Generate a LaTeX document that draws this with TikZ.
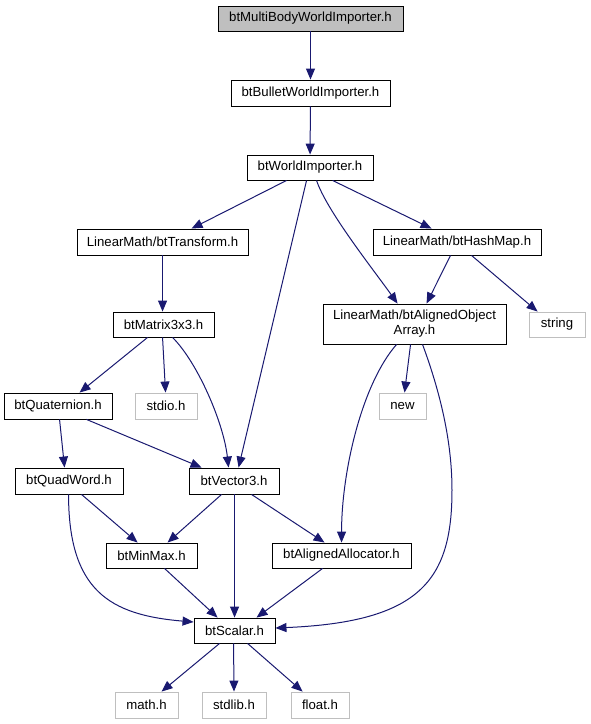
\documentclass[tikz,border=0pt]{standalone}
\usepackage{fontspec}
\setmainfont{Liberation Sans}
\usetikzlibrary{arrows.meta}
\definecolor{edgec}{HTML}{191970}
\definecolor{grayb}{HTML}{BFBFBF}
\begin{document}
\begin{tikzpicture}[x=1pt,y=-1pt,
  box/.style={draw=black, line width=0.9pt, inner sep=0pt, font=\fontsize{13.2}{15}\selectfont, text=black, fill=white, align=center},
  ext/.style={box, draw=grayb},
  edge/.style={draw=edgec, line width=1pt, -{Triangle[length=11pt,width=9pt]}}]
\useasboundingbox (0,0) rectangle (590,724);
\node[box, fill=grayb, minimum width=185pt, minimum height=25pt] (mb) at (310.5,18.5) {btMultiBodyWorldImporter.h};
\node[box, minimum width=159pt, minimum height=26pt] (bu) at (310.5,93) {btBulletWorldImporter.h};
\node[box, minimum width=126pt, minimum height=25pt] (wi) at (310,167.5) {btWorldImporter.h};
\node[box, minimum width=171pt, minimum height=26pt] (tr) at (162.5,242) {LinearMath/btTransform.h};
\node[box, minimum width=168pt, minimum height=26pt] (hm) at (457,242) {LinearMath/btHashMap.h};
\node[box, minimum width=101pt, minimum height=25pt] (m3) at (163.5,324.5) {btMatrix3x3.h};
\node[box, minimum width=183pt, minimum height=40pt] (ao) at (414.5,324) {LinearMath/btAlignedObject\\Array.h};
\node[ext, minimum width=56pt, minimum height=25pt] (st) at (557,324.5) {string};
\node[box, minimum width=108pt, minimum height=26pt] (qu) at (58,406) {btQuaternion.h};
\node[ext, minimum width=62pt, minimum height=26pt] (sd) at (166,406) {stdio.h};
\node[ext, minimum width=47pt, minimum height=26pt] (nw) at (402.5,406) {new};
\node[box, minimum width=108pt, minimum height=26pt] (qw) at (69,481) {btQuadWord.h};
\node[box, minimum width=90pt, minimum height=26pt] (v3) at (234,481) {btVector3.h};
\node[box, minimum width=91pt, minimum height=25pt] (mm) at (151.5,555.5) {btMinMax.h};
\node[box, minimum width=139pt, minimum height=25pt] (aa) at (341.5,555.5) {btAlignedAllocator.h};
\node[box, minimum width=81pt, minimum height=25pt] (sc) at (234.5,630.5) {btScalar.h};
\node[ext, minimum width=63pt, minimum height=26pt] (ma) at (146.5,705) {math.h};
\node[ext, minimum width=64pt, minimum height=26pt] (sl) at (234,705) {stdlib.h};
\node[ext, minimum width=58pt, minimum height=26pt] (fl) at (320,705) {float.h};

\draw[edge] (mb) -- (bu);
\draw[edge] (bu) -- (wi);
\draw[edge] ([xshift=40pt]wi.south west) -- ([xshift=115pt]tr.north west);
\draw[edge] ([xshift=60pt]wi.south west) -- ([xshift=50pt]v3.north west);
\draw[edge] ([xshift=70pt]wi.south west) .. controls +(10,30) and +(-25,-35) .. ([xshift=75pt]ao.north west);
\draw[edge] ([xshift=86pt]wi.south west) -- ([xshift=59pt]hm.north west);
\draw[edge] ([xshift=86pt]tr.south west) -- ([xshift=50pt]m3.north west);
\draw[edge] ([xshift=78pt]hm.south west) -- ([xshift=104pt]ao.north west);
\draw[edge] ([xshift=99pt]hm.south west) -- ([xshift=9pt]st.north west);
\draw[edge] ([xshift=88pt]ao.south west) -- ([xshift=26pt]nw.north west);
\draw[edge] ([xshift=74pt]ao.south west) .. controls +(-35,40) and +(0,-70) .. ([xshift=70pt]aa.north west);
\draw[edge] ([xshift=100pt]ao.south west) .. controls +(17,46) and +(0,-50) .. (452,490) .. controls +(0,90) and +(145,-6) .. ([yshift=2.5pt]sc.east);
\draw[edge] ([xshift=35pt]m3.south west) -- ([xshift=76pt]qu.north west);
\draw[edge] ([xshift=50pt]m3.south west) -- ([xshift=31pt]sd.north west);
\draw[edge] ([xshift=60pt]m3.south west) .. controls +(25,25) and +(-5,-45) .. ([xshift=40pt]v3.north west);
\draw[edge] ([xshift=56pt]qu.south west) -- ([xshift=50pt]qw.north west);
\draw[edge] ([xshift=83pt]qu.south west) -- ([xshift=13pt]v3.north west);
\draw[edge] ([xshift=67pt]qw.south west) -- ([xshift=32pt]mm.north west);
\draw[edge] ([xshift=54pt]qw.south west) .. controls +(0,96) and +(-84,-7) .. ([yshift=8.5pt]sc.west);
\draw[edge] ([xshift=33pt]v3.south west) -- ([xshift=62pt]mm.north west);
\draw[edge] ([xshift=46pt]v3.south west) -- ([xshift=41pt]sc.north west);
\draw[edge] ([xshift=63pt]v3.south west) -- ([xshift=53pt]aa.north west);
\draw[edge] ([xshift=59pt]mm.south west) -- ([xshift=24pt]sc.north west);
\draw[edge] ([xshift=51pt]aa.south west) -- ([xshift=63pt]sc.north west);
\draw[edge] ([xshift=26pt]sc.south west) -- ([xshift=47pt]ma.north west);
\draw[edge] ([xshift=40pt]sc.south west) -- (sl.north);
\draw[edge] ([xshift=54pt]sc.south west) -- ([xshift=12pt]fl.north west);
\end{tikzpicture}
\end{document}
